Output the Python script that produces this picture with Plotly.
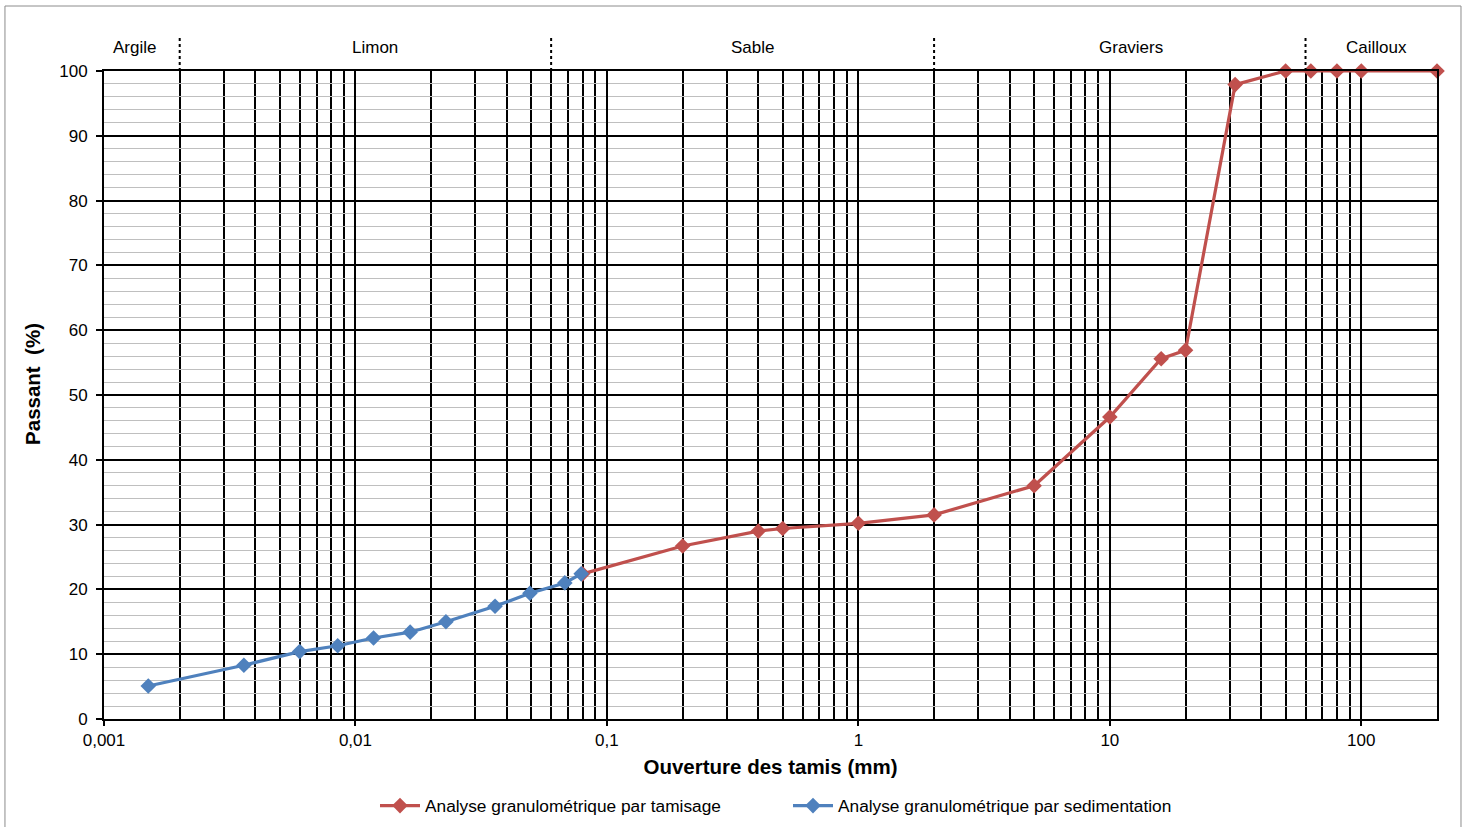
import math
import plotly.graph_objects as go

# --- Data ---
tamisage_x = [0.08, 0.2, 0.4, 0.5, 1, 2, 5, 10, 16, 20, 31.5, 50, 63, 80, 100, 200]
tamisage_y = [22.4, 26.7, 29.0, 29.4, 30.2, 31.5, 36.0, 46.6, 55.6, 56.9, 97.9, 100, 100, 100, 100, 100]

sedim_x = [0.0015, 0.0036, 0.0060, 0.0085, 0.0118, 0.0165, 0.0229, 0.0359, 0.0494, 0.068, 0.079]
sedim_y = [5.1, 8.3, 10.4, 11.3, 12.5, 13.4, 15.0, 17.4, 19.4, 21.0, 22.4]

zone_names = ["Argile", "Limon", "Sable", "Graviers", "Cailloux"]
zone_label_x = [0.00132, 0.0120, 0.38, 12.1, 115]
zone_bounds = [0.002, 0.06, 2, 60]

x_tickvals = [0.001, 0.01, 0.1, 1, 10, 100]
x_ticktext = ["0,001", "0,01", "0,1", "1", "10", "100"]
y_tickvals = [0, 10, 20, 30, 40, 50, 60, 70, 80, 90, 100]

RED = "#C0504D"
BLUE = "#4F81BD"
FONT = "Liberation Sans, Arial, sans-serif"

fig = go.Figure()
fig.add_trace(go.Scatter(
    x=tamisage_x, y=tamisage_y, mode="lines+markers",
    name="Analyse granulométrique par tamisage",
    line=dict(color=RED, width=3.2),
    marker=dict(symbol="diamond", size=12, color=RED),
    cliponaxis=False,
))
fig.add_trace(go.Scatter(
    x=sedim_x, y=sedim_y, mode="lines+markers",
    name="Analyse granulométrique par sedimentation",
    line=dict(color=BLUE, width=3.2),
    marker=dict(symbol="diamond", size=12, color=BLUE),
    cliponaxis=False,
))

shapes = []
for b in zone_bounds:
    shapes.append(dict(type="line", xref="x", yref="paper", x0=b, x1=b,
                       y0=1.0, y1=1.052, line=dict(color="black", width=2, dash="dot")))
# outer chart border
shapes.append(dict(type="rect", xref="paper", yref="paper",
                   x0=-0.0743, x1=1.018, y0=-0.175, y1=1.1003,
                   line=dict(color="#8C8C8C", width=1), fillcolor="rgba(0,0,0,0)"))

annotations = []
for name, lx in zip(zone_names, zone_label_x):
    annotations.append(dict(x=math.log10(lx), y=1.0355, xref="x", yref="paper",
                            text=name, showarrow=False,
                            font=dict(family=FONT, size=17, color="black"),
                            xanchor="center", yanchor="middle"))
# y axis title
annotations.append(dict(x=-0.0533, y=0.517, xref="paper", yref="paper",
                        text="<b>Passant  (%)</b>", showarrow=False, textangle=-90,
                        font=dict(family=FONT, size=20.5, color="black"),
                        xanchor="center", yanchor="middle"))

fig.update_layout(
    width=1471, height=827,
    margin=dict(l=104, r=34, t=71, b=108, autoexpand=False),
    paper_bgcolor="white", plot_bgcolor="white",
    font=dict(family=FONT, size=17, color="black"),
    shapes=shapes, annotations=annotations,
    showlegend=True,
    legend=dict(orientation="h", x=0.2033, xanchor="left", y=-0.134, yanchor="middle",
                bgcolor="rgba(0,0,0,0)",
                font=dict(family=FONT, size=17.3, color="black"),
                entrywidth=358, entrywidthmode="pixels", itemwidth=40),
    xaxis=dict(
        type="log", range=[math.log10(0.001), math.log10(200)],
        tickvals=x_tickvals, ticktext=x_ticktext,
        ticks="outside", ticklen=5, tickcolor="black", tickwidth=1.5,
        ticklabelstandoff=0,
        showline=True, linecolor="black", linewidth=2, mirror=True,
        showgrid=True, gridcolor="black", gridwidth=1.8,
        minor=dict(dtick="D1", showgrid=True, gridcolor="black", gridwidth=1.8, ticks=""),
        zeroline=False,
        tickfont=dict(family=FONT, size=17, color="black"),
        title=dict(text="<b>Ouverture des tamis (mm)</b>", standoff=10,
                   font=dict(family=FONT, size=20.5, color="black")),
    ),
    yaxis=dict(
        range=[0, 100], tickvals=y_tickvals,
        ticks="outside", ticklen=6, tickcolor="black", tickwidth=1.5,
        ticklabelstandoff=5,
        showline=True, linecolor="black", linewidth=2, mirror=True,
        showgrid=True, gridcolor="black", gridwidth=1.8,
        minor=dict(dtick=2, showgrid=True, gridcolor="#BFBFBF", gridwidth=1.3, ticks=""),
        zeroline=False,
        tickfont=dict(family=FONT, size=17, color="black"),
    ),
)

fig.write_html("out.html", config={"displayModeBar": False},
               post_script="document.body.style.margin='0';")
